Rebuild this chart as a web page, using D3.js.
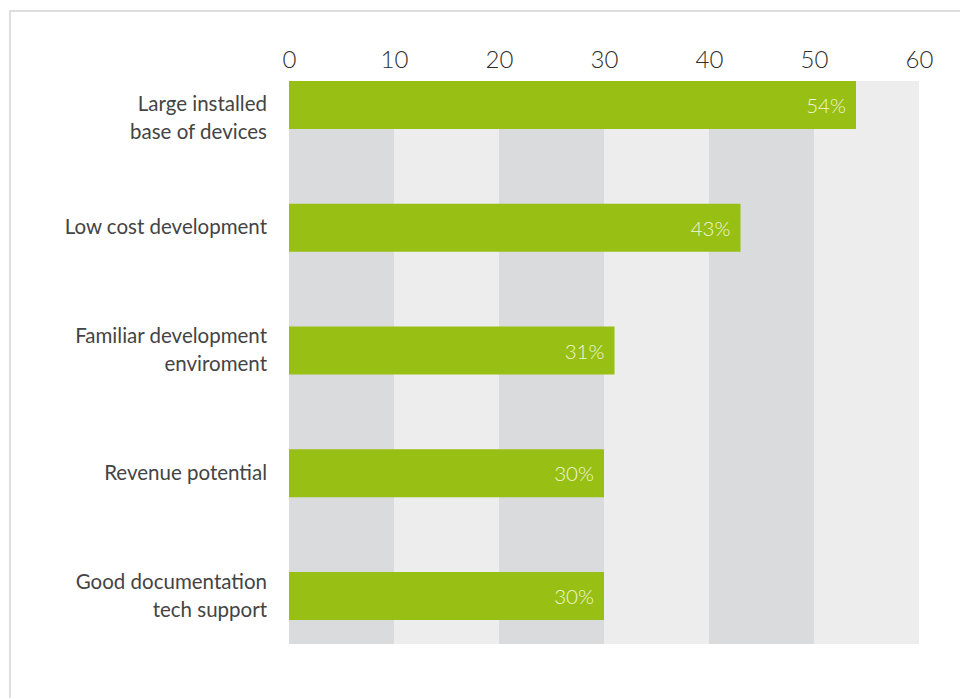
<!DOCTYPE html>
<html>
<head>
<meta charset="utf-8">
<script src="https://cdn.jsdelivr.net/npm/d3@7"></script>
<style>
  html, body { margin: 0; padding: 0; background: #fff; }
  svg { display: block; font-family: Lato, "Open Sans", sans-serif; }
</style>
</head>
<body>
<svg id="chart" width="960" height="698"></svg>
<script>
// Survey answers: share of respondents citing each reason (%)
const categories = [
  ["Large installed", "base of devices"],
  ["Low cost development"],
  ["Familiar development", "enviroment"],
  ["Revenue potential"],
  ["Good documentation", "tech support"]
];
const values = [54, 43, 31, 30, 30];
const tickValues = [0, 10, 20, 30, 40, 50, 60];

const svg = d3.select("#chart");
const W = 960, H = 698;

// outer frame (top and left edges visible)
svg.append("rect")
  .attr("x", 10).attr("y", 11)
  .attr("width", W + 20).attr("height", H + 20)
  .attr("fill", "#fff")
  .attr("stroke", "#dedede").attr("stroke-width", 2);

const plot = { left: 289, right: 919, top: 81, bottom: 644 };

const x = d3.scaleLinear().domain([0, 60]).range([plot.left, plot.right]);
const y = d3.scaleBand()
  .domain(d3.range(categories.length))
  .range([plot.top, 620])
  .paddingInner(0.609)
  .paddingOuter(0);

// alternating vertical background bands
const bands = d3.range(tickValues.length - 1);
svg.append("g").selectAll("rect")
  .data(bands)
  .join("rect")
  .attr("x", i => x(tickValues[i]))
  .attr("y", plot.top)
  .attr("width", i => x(tickValues[i + 1]) - x(tickValues[i]))
  .attr("height", plot.bottom - plot.top)
  .attr("fill", i => i % 2 === 0 ? "#dadbdd" : "#ecedec");

// top axis
const axis = d3.axisTop(x).tickValues(tickValues).tickSize(0).tickPadding(0);
const gAxis = svg.append("g")
  .attr("transform", `translate(0,68)`)
  .call(axis);
gAxis.select(".domain").remove();
gAxis.selectAll("text")
  .attr("dy", 0)
  .attr("font-size", 24)
  .attr("font-weight", 300)
  .attr("font-family", "Lato, sans-serif")
  .attr("fill", "#2e2e2e");

// bars
svg.append("g").selectAll("rect")
  .data(values)
  .join("rect")
  .attr("x", x(0))
  .attr("y", (d, i) => y(i))
  .attr("width", d => x(d) - x(0))
  .attr("height", y.bandwidth())
  .attr("fill", "#98bf14");

// value labels inside bar ends
svg.append("g").selectAll("text")
  .data(values)
  .join("text")
  .attr("x", d => x(d) - 10)
  .attr("y", (d, i) => y(i) + y.bandwidth() / 2 + 8)
  .attr("text-anchor", "end")
  .attr("font-size", 20.5)
  .attr("font-weight", 300)
  .attr("fill", "#f0f6d6")
  .text(d => d + "%");

// category labels, right aligned to the left of the plot
const lineH = 28;
const gLab = svg.append("g");
categories.forEach((lines, i) => {
  const cy = y(i) + y.bandwidth() / 2;
  let first = cy - (lines.length - 1) * lineH / 2;
  first = Math.max(first, plot.top + 23);
  const t = gLab.append("text")
    .attr("text-anchor", "end")
    .attr("font-size", 20.5)
    .attr("font-weight", 400)
    .attr("fill", "#444");
  lines.forEach((ln, k) => {
    t.append("tspan")
      .attr("x", 267)
      .attr("y", first + k * lineH + 6.5)
      .text(ln);
  });
});
</script>
</body>
</html>
